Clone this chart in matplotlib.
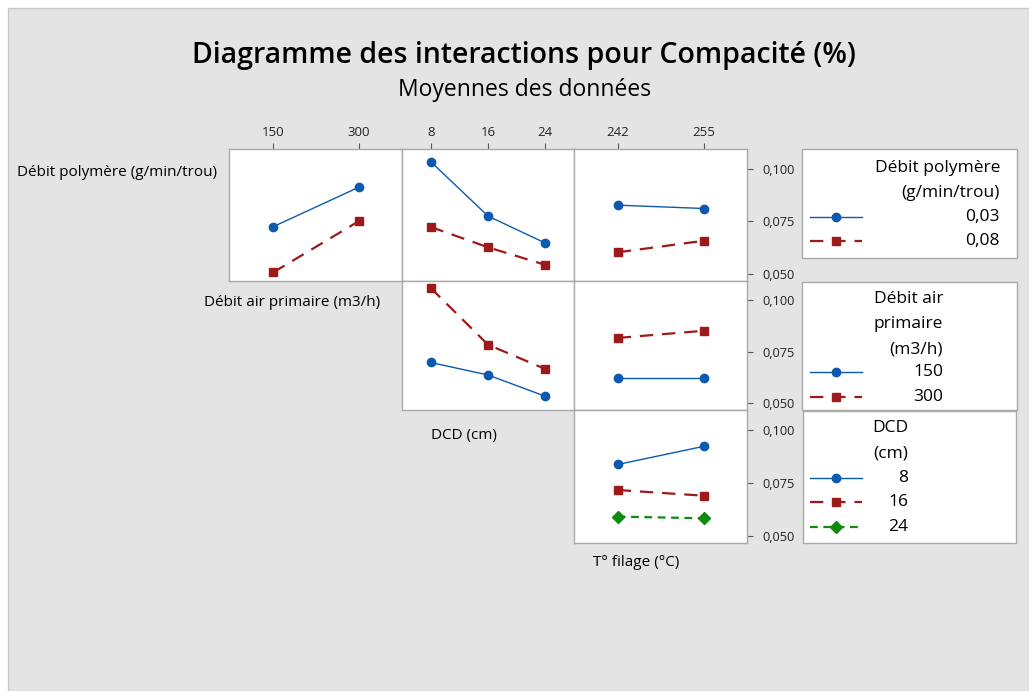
import matplotlib.pyplot as plt
from matplotlib.lines import Line2D
from matplotlib.patches import Rectangle

plt.rcParams['font.family'] = ['Open Sans', 'DejaVu Sans']

# factor levels
air_levels = [150, 300]
dcd_levels = [8, 16, 24]
temp_levels = [242, 255]
dp_labels = ['0,03', '0,08']
air_labels = ['150', '300']
dcd_labels = ['8', '16', '24']

# means of Compacité for each pair of factors
dp003_air = [0.0724, 0.0913]
dp008_air = [0.0506, 0.0751]
dp003_dcd = [0.1035, 0.0775, 0.0646]
dp008_dcd = [0.0723, 0.0626, 0.0542]
dp003_temp = [0.0827, 0.0811]
dp008_temp = [0.0602, 0.0657]
air150_dcd = [0.0697, 0.0636, 0.0532]
air300_dcd = [0.1061, 0.0784, 0.0665]
air150_temp = [0.0620, 0.0620]
air300_temp = [0.0817, 0.0852]
dcd8_temp = [0.0837, 0.0923]
dcd16_temp = [0.0716, 0.0689]
dcd24_temp = [0.0590, 0.0582]

y_ticks = [0.050, 0.075, 0.100]
y_ticklabels = ['0,050', '0,075', '0,100']

W, H = 1029, 691
BG = '#e4e4e4'
EDGE = '#a9a9a9'

STYLES = [
    dict(color='#0b5ab0', ls='-', lw=1.0, marker='o', ms=6),
    dict(color='#9e1a1a', ls=(0, (6, 4)), lw=1.6, marker='s', ms=6),
    dict(color='#108a10', ls=(0, (3.5, 2.5)), lw=1.6, marker='D', ms=6),
]


def fx(x):
    return x / W


def fy(y):
    return 1 - y / H


def rect(x0, y0, x1, y1):
    return [fx(x0), fy(y1), (x1 - x0) / W, (y1 - y0) / H]


fig = plt.figure(figsize=(W / 100, H / 100), dpi=100, facecolor='white')
fig.patches.append(Rectangle((fx(8), 0), 1 - fx(8), fy(8), transform=fig.transFigure,
                             facecolor=BG, edgecolor='#c8c8c8', lw=1, zorder=-10))

fig.text(fx(524), fy(56), 'Diagramme des interactions pour Compacité (%)',
         ha='center', va='center', fontsize=20.5, fontweight='semibold')
fig.text(fx(525), fy(90), 'Moyennes des données', ha='center', va='center', fontsize=16.5)

col_x = [(229, 402), (402, 574), (574, 747)]
row_y = [(149, 281), (281, 410), (410, 543)]
col_levels = [air_levels, dcd_levels, temp_levels]
col_xlim = [(73, 375), (4, 28), (235.4, 261.5)]

panels = {
    (0, 0): [dp003_air, dp008_air],
    (0, 1): [dp003_dcd, dp008_dcd],
    (0, 2): [dp003_temp, dp008_temp],
    (1, 1): [air150_dcd, air300_dcd],
    (1, 2): [air150_temp, air300_temp],
    (2, 2): [dcd8_temp, dcd16_temp, dcd24_temp],
}

for (r, c), series in panels.items():
    ax = fig.add_axes(rect(col_x[c][0], row_y[r][0], col_x[c][1], row_y[r][1]))
    ax.set_facecolor('white')
    for i, vals in enumerate(series):
        st = STYLES[i]
        ax.plot(col_levels[c], vals, color=st['color'], linestyle=st['ls'], lw=st['lw'],
                marker=st['marker'], ms=st['ms'], mec=st['color'], mfc=st['color'])
    ax.set_xlim(*col_xlim[c])
    ax.set_ylim(0.0465, 0.1095)
    for sp in ax.spines.values():
        sp.set_color(EDGE)
        sp.set_linewidth(1)
    if r == 0:
        ax.xaxis.tick_top()
        ax.set_xticks(col_levels[c])
        ax.tick_params(axis='x', length=4, pad=3, labelsize=9.5, colors='#555555',
                       labelcolor='#222222')
    else:
        ax.set_xticks([])
    if c == 2:
        ax.yaxis.tick_right()
        ax.set_yticks(y_ticks)
        ax.set_yticklabels(y_ticklabels)
        ax.tick_params(axis='y', length=4, pad=7, labelsize=9.2, colors='#555555',
                       labelcolor='#222222')
    else:
        ax.set_yticks([])

# factor names
fig.text(fx(17), fy(173), 'Débit polymère (g/min/trou)', ha='left', va='center', fontsize=11)
fig.text(fx(204), fy(303), 'Débit air primaire (m3/h)', ha='left', va='center', fontsize=11)
fig.text(fx(431), fy(435), 'DCD (cm)', ha='left', va='center', fontsize=11)
fig.text(fx(593), fy(563), 'T° filage (°C)', ha='left', va='center', fontsize=11)

# legends
legends = [
    dict(box=(802, 149, 1017, 258), title=['Débit polymère', '(g/min/trou)'], title_y=[168, 193],
         labels=dp_labels, label_y=[217, 241], right=1000),
    dict(box=(802, 282, 1017, 410), title=['Débit air', 'primaire', '(m3/h)'], title_y=[299, 324, 349],
         labels=air_labels, label_y=[372, 397], right=943),
    dict(box=(803, 411, 1016, 543), title=['DCD', '(cm)'], title_y=[428, 453],
         labels=dcd_labels, label_y=[478, 502, 527], right=908),
]

for lg in legends:
    x0, y0, x1, y1 = lg['box']
    fig.patches.append(Rectangle((fx(x0), fy(y1)), fx(x1) - fx(x0), fy(y0) - fy(y1),
                                 transform=fig.transFigure, facecolor='white',
                                 edgecolor=EDGE, lw=1, zorder=1))
    for txt, ty in zip(lg['title'], lg['title_y']):
        fig.text(fx(lg['right']), fy(ty), txt, ha='right', va='center', fontsize=12.5, zorder=3)
    for i, (txt, ty) in enumerate(zip(lg['labels'], lg['label_y'])):
        st = STYLES[i]
        fig.text(fx(lg['right']), fy(ty), txt, ha='right', va='center', fontsize=12.5, zorder=3)
        fig.add_artist(Line2D([fx(810), fx(862)], [fy(ty), fy(ty)], transform=fig.transFigure,
                              color=st['color'], linestyle=st['ls'], lw=st['lw'], zorder=3))
        fig.add_artist(Line2D([fx(836)], [fy(ty)], transform=fig.transFigure,
                              color=st['color'], marker=st['marker'], ms=st['ms'],
                              linestyle='none', zorder=4))

fig.savefig('out.png', dpi=100, facecolor=fig.get_facecolor())
